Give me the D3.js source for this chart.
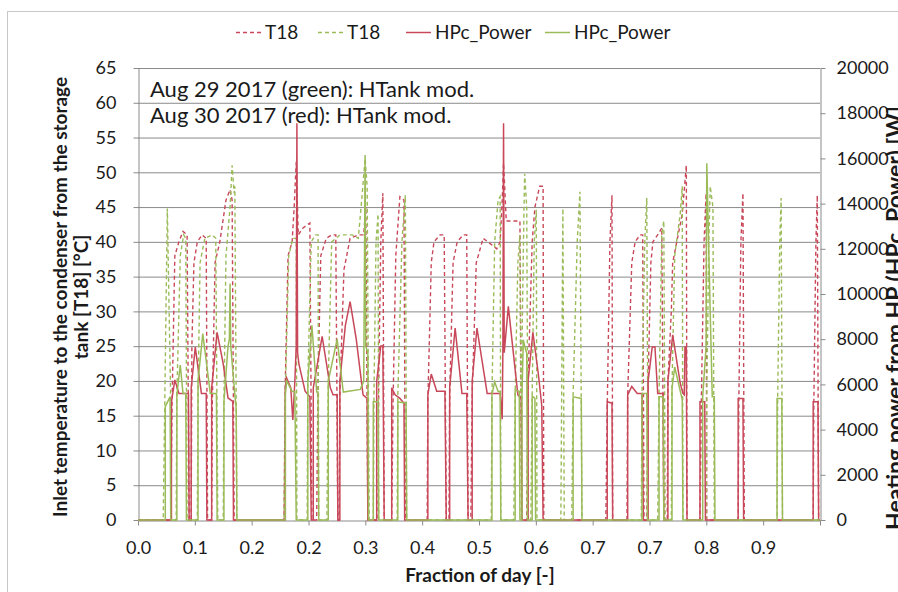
<!DOCTYPE html>
<html>
<head>
<meta charset="utf-8">
<script src="https://cdn.jsdelivr.net/npm/d3@7/dist/d3.min.js"></script>
<style>
  body { margin: 0; background: #fff; }
  text { font-family: Lato, "Open Sans", sans-serif; fill: #1a1a1a; }
</style>
</head>
<body>
<script>
// ---- data (x = fraction of day) ----
// T18 inlet temperature [°C], Aug 30 (red, dashed)
const t18Aug30 = [[0,0],
  [.048,0],[.050,17],[.054,38],[.060,40],[.066,41.5],[.072,41],[.075,0],
  [.078,0],[.079,25],[.082,37],[.087,40],[.094,41],[.100,40.5],[.102,0],
  [.108,0],[.109,17],[.113,37],[.120,40],[.129,46],[.135,47.5],[.138,46],[.141,0],
  [.214,0],[.216,20],[.220,38],[.226,40],[.229,45],[.232,51.5],[.235,41],[.242,42],[.252,42.7],[.255,0],
  [.262,0],[.264,20],[.268,38],[.276,40.5],[.284,41],[.290,41],[.293,0],
  [.295,0],[.296,18],[.302,36],[.311,40.5],[.323,41],[.331,41],[.334,45],[.337,0],
  [.352,0],[.353,20],[.356,40],[.359,47],[.361,0],
  [.372,0],[.374,17],[.378,38],[.384,46.5],[.390,46],[.392,0],
  [.424,0],[.425,17],[.430,37],[.434,40],[.443,41],[.449,41],[.452,0],
  [.456,0],[.457,18],[.462,37],[.468,40],[.477,41],[.482,41],[.484,0],
  [.488,0],[.490,18],[.496,37],[.506,40.5],[.513,40],[.526,39],[.531,40],[.534,46],[.536,51.3],[.540,43],[.548,43],[.560,43],[.563,0],
  [.570,0],[.572,20],[.578,40],[.582,45],[.589,48],[.594,48],[.595,0],
  [.686,0],[.688,16],[.692,40],[.695,46.7],[.696,0],
  [.717,0],[.718,18],[.724,37],[.729,40],[.736,41],[.740,41],[.742,0],
  [.746,0],[.748,20],[.752,37],[.755,40],[.762,41],[.768,42],[.771,0],
  [.776,0],[.777,20],[.782,30],[.784,37],[.790,40],[.798,44],[.804,51],[.805,0],
  [.824,0],[.826,17],[.830,40],[.833,47],[.834,0],
  [.880,0],[.881,17],[.884,40],[.887,47],[.889,0],
  [.990,0],[.991,17],[.994,40],[.996,46.7],[.998,0],
  [1,0]];

// T18 inlet temperature [°C], Aug 29 (green, dashed)
const t18Aug29 = [[0,0],
  [.037,0],[.043,44.8],[.048,17],[.049,0],
  [.056,0],[.057,18],[.062,38],[.067,41],[.070,40.5],[.072,0],
  [.087,0],[.088,18],[.091,37],[.098,40.5],[.109,41],[.114,40.5],[.117,0],
  [.125,0],[.126,17],[.129,38],[.135,45],[.138,51],[.141,47],[.142,48],[.145,0],
  [.214,0],[.216,18],[.221,38],[.227,40.5],[.232,40.5],[.233,0],
  [.248,0],[.249,20],[.254,40],[.260,41],[.264,41],[.265,0],
  [.277,0],[.279,20],[.284,40],[.296,41],[.314,41],[.323,40.5],[.328,46],[.333,52],[.336,48],[.339,0],
  [.345,0],[.346,18],[.349,40],[.352,44],[.353,0],
  [.380,0],[.381,18],[.387,40],[.392,46.7],[.394,0],
  [.518,0],[.519,18],[.523,40],[.528,46],[.531,46.5],[.532,0],
  [.551,0],[.553,18],[.557,37],[.560,41],[.562,0],
  [.562,0],[.563,25],[.566,45],[.567,49.8],[.570,45],[.572,0],
  [.576,0],[.578,18],[.581,40],[.584,44.6],[.585,0],
  [.620,0],[.623,44.8],[.625,0],
  [.636,0],[.638,18],[.644,40],[.648,47.2],[.651,0],
  [.738,0],[.739,18],[.743,40],[.746,46.3],[.748,0],
  [.762,0],[.764,18],[.768,41],[.771,43],[.773,0],
  [.782,0],[.783,19],[.787,38],[.795,44],[.798,48],[.799,0],
  [.833,0],[.834,18],[.837,40],[.839,48],[.843,45],[.845,0],
  [.937,0],[.938,18],[.941,40],[.943,46.3],[.945,0],
  [1,0]];

// HPc_Power [W], Aug 30 (red, solid)
const powerAug30 = [[0,0],
  [.049,0],[.049,5200],[.054,6200],[.060,5600],[.074,5600],[.075,0],
  [.078,0],[.078,5850],[.084,7650],[.093,5600],[.100,5600],[.101,0],
  [.108,0],[.108,5850],[.116,8300],[.125,6900],[.132,5400],[.139,5250],[.140,0],
  [.216,0],[.216,5850],[.218,6280],[.224,5850],[.227,4430],[.230,6150],[.232,7700],[.233,17550],[.234,7400],[.236,6900],[.245,5700],[.252,5450],[.254,0],
  [.257,0],[.257,5850],[.270,8120],[.282,5850],[.286,5540],[.292,5540],[.293,0],
  [.296,0],[.296,6150],[.304,8600],[.311,9660],[.320,8000],[.330,5540],[.336,5380],[.337,0],
  [.350,0],[.350,6150],[.356,7700],[.359,7700],[.361,0],
  [.372,0],[.372,5850],[.377,5540],[.384,5380],[.390,5170],[.391,0],
  [.425,0],[.425,5540],[.430,6460],[.438,5700],[.450,5700],[.452,0],
  [.457,0],[.457,5850],[.465,8490],[.475,5600],[.482,5600],[.484,0],
  [.490,0],[.490,6150],[.497,8490],[.512,5600],[.531,5600],[.534,4460],[.535,7400],[.536,17550],[.537,7400],[.543,9450],[.557,5540],[.562,5380],[.563,0],
  [.572,0],[.572,6150],[.579,8300],[.587,6460],[.592,5080],[.594,0],
  [.688,0],[.688,5230],[.695,5170],[.696,0],
  [.718,0],[.718,5540],[.724,5910],[.732,5600],[.739,5600],[.741,0],
  [.748,0],[.748,6150],[.754,7660],[.758,7660],[.762,5600],[.770,5600],[.771,0],
  [.777,0],[.777,6150],[.784,8190],[.795,6060],[.799,5600],[.801,5540],[.802,7660],[.804,7660],[.805,0],
  [.824,0],[.824,5230],[.831,5230],[.832,0],
  [.880,0],[.880,5380],[.887,5380],[.888,0],
  [.990,0],[.990,5230],[.997,5230],[.998,0],
  [1,0]];

// HPc_Power [W], Aug 29 (green, solid)
const powerAug29 = [[0,0],
  [.040,0],[.040,5020],[.047,5450],[.048,0],
  [.057,0],[.057,5540],[.062,6860],[.066,5600],[.070,5600],[.071,0],
  [.088,0],[.088,6150],[.095,8250],[.106,5600],[.115,5600],[.116,0],
  [.126,0],[.126,5230],[.132,7690],[.134,8000],[.135,10460],[.136,7690],[.142,5540],[.144,4920],[.145,0],
  [.216,0],[.216,5540],[.218,6150],[.226,5690],[.230,5690],[.232,0],
  [.249,0],[.249,6150],[.255,8620],[.262,5660],[.264,5660],[.265,0],
  [.279,0],[.279,6150],[.292,8000],[.301,5660],[.326,5780],[.331,6150],[.333,16150],[.334,7690],[.337,7380],[.338,0],
  [.345,0],[.345,5230],[.352,5230],[.353,0],
  [.381,0],[.381,5230],[.393,5170],[.394,0],
  [.519,0],[.519,5540],[.523,6120],[.528,5690],[.531,5690],[.532,0],
  [.553,0],[.553,5750],[.559,5690],[.560,0],
  [.563,0],[.563,5540],[.565,7970],[.567,7690],[.570,7380],[.571,0],
  [.578,0],[.578,5480],[.582,5380],[.583,0],
  [.638,0],[.638,5450],[.650,5380],[.651,0],
  [.739,0],[.739,5600],[.746,5600],[.747,0],
  [.764,0],[.764,5450],[.770,5450],[.771,0],
  [.783,0],[.783,5850],[.787,6770],[.798,5320],[.799,0],
  [.828,0],[.828,5450],[.833,7690],[.834,15780],[.839,9230],[.842,5450],[.845,5450],[.846,0],
  [.937,0],[.937,5380],[.944,5380],[.945,0],
  [1,0]];

const xTickLabels = ["0.0","0.1","0.2","0.2","0.3","0.4","0.5","0.6","0.7","0.7","0.8","0.9"];
const seriesNames = ["T18", "T18", "HPc_Power", "HPc_Power"];
const notes = ["Aug 29 2017 (green): HTank mod.", "Aug 30 2017 (red): HTank mod."];

const red = "#c8485a", green = "#9bbb59", gridCol = "#8a8a8a", axisCol = "#8a8a8a";

// ---- svg ----
const w = 898, h = 592;
const svg = d3.select("body").append("svg").attr("width", w).attr("height", h);

// outer chart border
svg.append("rect").attr("x", 7.5).attr("y", 11.5).attr("width", 900).attr("height", 600)
   .attr("fill", "none").attr("stroke", "#c8c8c8");

const x  = d3.scaleLinear().domain([0, 1]).range([138, 820]);
const yL = d3.scaleLinear().domain([0, 65]).range([520, 68]);
const yR = d3.scaleLinear().domain([0, 20000]).range([520, 68]);

// gridlines
svg.append("g").selectAll("line")
   .data(d3.range(5, 66, 5))
   .enter().append("line")
     .attr("x1", 138).attr("x2", 820)
     .attr("y1", d => yL(d) + 0.5).attr("y2", d => yL(d) + 0.5)
     .attr("stroke", gridCol).attr("stroke-width", 1);

// axes
const styleAxis = g => {
  g.select(".domain").attr("stroke", axisCol);
  g.selectAll(".tick line").attr("stroke", axisCol);
  g.selectAll(".tick text").attr("font-size", "18px").attr("fill", "#1a1a1a")
   .attr("font-family", "Lato, 'Open Sans', sans-serif");
};

svg.append("g").attr("transform", "translate(138.5,0)")
   .call(d3.axisLeft(yL).tickValues(d3.range(0, 66, 5)).tickSize(5).tickPadding(17).tickSizeOuter(0))
   .call(styleAxis);

svg.append("g").attr("transform", "translate(820.5,0)")
   .call(d3.axisRight(yR).tickValues(d3.range(0, 20001, 2000)).tickFormat(d3.format("d"))
        .tickSize(5).tickPadding(11).tickSizeOuter(0))
   .call(styleAxis);

svg.append("g").attr("transform", "translate(0,520.5)")
   .call(d3.axisBottom(x).tickValues(d3.range(13).map(i => i / 12))
        .tickFormat((d, i) => xTickLabels[i] || "").tickSize(5).tickPadding(16).tickSizeOuter(0))
   .call(styleAxis);

// lines
const lineL = d3.line().x(d => x(d[0])).y(d => yL(d[1]));
const lineR = d3.line().x(d => x(d[0])).y(d => yR(d[1]));

svg.append("path").datum(t18Aug30).attr("d", lineL)
   .attr("fill", "none").attr("stroke", red).attr("stroke-width", 1.4).attr("stroke-dasharray", "4,3");
svg.append("path").datum(t18Aug29).attr("d", lineL)
   .attr("fill", "none").attr("stroke", green).attr("stroke-width", 1.4).attr("stroke-dasharray", "4,3");
svg.append("path").datum(powerAug30).attr("d", lineR)
   .attr("fill", "none").attr("stroke", red).attr("stroke-width", 1.5);
svg.append("path").datum(powerAug29).attr("d", lineR)
   .attr("fill", "none").attr("stroke", green).attr("stroke-width", 1.5);

// annotation
svg.selectAll("text.note")
   .data(notes)
   .enter().append("text")
     .attr("class", "note")
     .attr("x", 150).attr("y", (d, i) => 97 + i * 26)
     .attr("font-size", "22px")
     .text(d => d);

// legend
const legendX = [236, 318, 406, 545];
const legendCol = [red, green, red, green];
const legendDash = ["4,3", "4,3", null, null];
const lg = svg.append("g");
seriesNames.forEach((name, i) => {
  lg.append("line")
    .attr("x1", legendX[i]).attr("x2", legendX[i] + 25)
    .attr("y1", 32.5).attr("y2", 32.5)
    .attr("stroke", legendCol[i]).attr("stroke-width", 1.5)
    .attr("stroke-dasharray", legendDash[i]);
  lg.append("text")
    .attr("x", legendX[i] + 29).attr("y", 39)
    .attr("font-size", "19px")
    .text(name);
});

// axis titles
svg.append("text")
   .attr("transform", "translate(67,297) rotate(-90)")
   .attr("text-anchor", "middle").attr("font-size", "19px").attr("font-weight", "bold")
   .text("Inlet temperature to the condenser from the storage");
svg.append("text")
   .attr("transform", "translate(88,297) rotate(-90)")
   .attr("text-anchor", "middle").attr("font-size", "19px").attr("font-weight", "bold")
   .text("tank [T18] [°C]");
svg.append("text")
   .attr("transform", "translate(903,318) rotate(-90)")
   .attr("text-anchor", "middle").attr("font-size", "23px").attr("font-weight", "bold")
   .text("Heating power from HP (HPc_Power) [W]");
svg.append("text")
   .attr("x", 480).attr("y", 582)
   .attr("text-anchor", "middle").attr("font-size", "19px").attr("font-weight", "bold")
   .text("Fraction of day [-]");
</script>
</body>
</html>
